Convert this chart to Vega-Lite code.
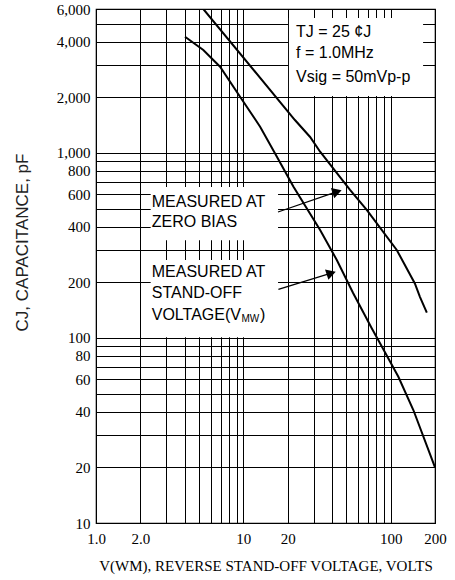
{
  "$schema": "https://vega.github.io/schema/vega-lite/v6.json",
  "width": 339,
  "height": 514,
  "autosize": "none",
  "padding": {"left": 96, "top": 9, "right": 20, "bottom": 57},
  "background": "white",
  "config": {
    "view": {"stroke": "black", "strokeWidth": 1.2},
    "font": "Liberation Sans"
  },
  "datasets": {
    "curves": [
      {"series": "zero bias", "v": 5.35, "c": 6000},
      {"series": "zero bias", "v": 22.4, "c": 1507},
      {"series": "zero bias", "v": 28.4, "c": 1220},
      {"series": "zero bias", "v": 33.2, "c": 1016},
      {"series": "zero bias", "v": 53.0, "c": 631},
      {"series": "zero bias", "v": 68.8, "c": 492},
      {"series": "zero bias", "v": 110, "c": 299},
      {"series": "zero bias", "v": 146, "c": 197},
      {"series": "zero bias", "v": 158, "c": 167},
      {"series": "zero bias", "v": 176, "c": 137},
      {"series": "stand-off", "v": 4.02, "c": 4250},
      {"series": "stand-off", "v": 5.35, "c": 3603},
      {"series": "stand-off", "v": 6.95, "c": 2927},
      {"series": "stand-off", "v": 9.5, "c": 2014},
      {"series": "stand-off", "v": 13.0, "c": 1387},
      {"series": "stand-off", "v": 16.9, "c": 955},
      {"series": "stand-off", "v": 21.9, "c": 657},
      {"series": "stand-off", "v": 33.2, "c": 383},
      {"series": "stand-off", "v": 43.1, "c": 264},
      {"series": "stand-off", "v": 55.6, "c": 175},
      {"series": "stand-off", "v": 74.4, "c": 113},
      {"series": "stand-off", "v": 84.7, "c": 93.6},
      {"series": "stand-off", "v": 112.8, "c": 61.7},
      {"series": "stand-off", "v": 142.6, "c": 40.8},
      {"series": "stand-off", "v": 200, "c": 20}
    ],
    "boxes": [
      {"v": 20.4, "v2": 166, "c": 2030, "c2": 5360},
      {"v": 2.35, "v2": 17.2, "c": 338, "c2": 654},
      {"v": 2.35, "v2": 17.2, "c": 101, "c2": 264}
    ],
    "arrows": [
      {"arrow": "a", "end": "tail", "v": 17.2, "c": 480},
      {"arrow": "a", "end": "head", "v": 43.3, "c": 618},
      {"arrow": "b", "end": "tail", "v": 17.3, "c": 183},
      {"arrow": "b", "end": "head", "v": 39.5, "c": 224}
    ],
    "notes": [
      {"kind": "main", "v": 22.8, "c": 4508, "label": "TJ = 25  ¢J"},
      {"kind": "main", "v": 22.8, "c": 3470, "label": "f = 1.0MHz"},
      {"kind": "main", "v": 22.8, "c": 2574, "label": "Vsig = 50mVp-p"},
      {"kind": "main", "v": 2.39, "c": 545, "label": "MEASURED AT"},
      {"kind": "main", "v": 2.39, "c": 425, "label": "ZERO BIAS"},
      {"kind": "main", "v": 2.39, "c": 228, "label": "MEASURED AT"},
      {"kind": "main", "v": 2.39, "c": 174, "label": "STAND-OFF"},
      {"kind": "main", "v": 2.39, "c": 133, "label": "VOLTAGE(V"},
      {"kind": "main", "v": 13.0, "c": 133, "label": ")"},
      {"kind": "sub", "v": 9.7, "c": 127, "label": "MW"}
    ]
  },
  "encoding": {
    "x": {
      "field": "v",
      "type": "quantitative",
      "scale": {"type": "log", "domain": [1, 200], "nice": false},
      "axis": {
        "values": [1, 2, 3, 4, 5, 6, 7, 8, 9, 10, 20, 30, 40, 50, 60, 70, 80, 90, 100, 200],
        "labelExpr": "datum.value == 1 ? '1.0' : datum.value == 2 ? '2.0' : (datum.value == 10 || datum.value == 20 || datum.value == 100 || datum.value == 200) ? format(datum.value, 'd') : ''",
        "grid": true,
        "gridColor": "black",
        "gridOpacity": 1,
        "gridWidth": 1,
        "ticks": false,
        "domain": false,
        "labelFont": "Liberation Serif",
        "labelFontSize": 15,
        "labelColor": "black",
        "labelPadding": 8,
        "labelFlush": false,
        "labelOverlap": false,
        "title": "V(WM), REVERSE STAND-OFF VOLTAGE, VOLTS",
        "titleFont": "Liberation Serif",
        "titleFontSize": 15,
        "titleFontWeight": "normal",
        "titleColor": "black",
        "titleX": 169.5,
        "titleY": 42,
        "titleBaseline": "middle",
        "titleAlign": "center"
      }
    },
    "y": {
      "field": "c",
      "type": "quantitative",
      "scale": {"type": "log", "domain": [10, 6000], "nice": false},
      "axis": {
        "values": [10, 20, 30, 40, 50, 60, 70, 80, 90, 100, 200, 300, 400, 500, 600, 700, 800, 900, 1000, 2000, 3000, 4000, 5000, 6000],
        "labelExpr": "indexof([10, 20, 40, 60, 80, 100, 200, 400, 600, 800, 1000, 2000, 4000, 6000], datum.value) >= 0 ? format(datum.value, ',') : ''",
        "grid": true,
        "gridColor": "black",
        "gridOpacity": 1,
        "gridWidth": 1,
        "ticks": false,
        "domain": false,
        "labelFont": "Liberation Serif",
        "labelFontSize": 15,
        "labelColor": "black",
        "labelPadding": 6,
        "labelOverlap": false,
        "labelFlush": false,
        "title": "CJ, CAPACITANCE, pF",
        "titleFont": "Liberation Sans",
        "titleFontSize": 17,
        "titleFontWeight": "normal",
        "titleColor": "#222222",
        "titleX": -74,
        "titleY": 233,
        "titleAngle": -90,
        "titleAlign": "center",
        "titleBaseline": "middle"
      }
    }
  },
  "layer": [
    {
      "data": {"name": "boxes"},
      "mark": {"type": "rect", "fill": "white", "stroke": null},
      "encoding": {
        "x2": {"field": "v2"},
        "y2": {"field": "c2"}
      }
    },
    {
      "data": {"name": "curves"},
      "mark": {"type": "line", "color": "black", "strokeWidth": 2, "clip": true},
      "encoding": {"detail": {"field": "series"}}
    },
    {
      "data": {"name": "arrows"},
      "mark": {"type": "line", "color": "black", "strokeWidth": 1.2},
      "encoding": {"detail": {"field": "arrow"}}
    },
    {
      "data": {"name": "arrows"},
      "transform": [{"filter": "datum.end == 'head'"}],
      "mark": {"type": "point", "shape": "triangle-right", "filled": true, "color": "black", "opacity": 1, "size": 120, "angle": -18},
      "encoding": {}
    },
    {
      "data": {"name": "notes"},
      "transform": [{"filter": "datum.kind == 'main'"}],
      "mark": {"type": "text", "align": "left", "baseline": "middle", "font": "Liberation Sans", "fontSize": 16, "color": "black"},
      "encoding": {"text": {"field": "label"}}
    },
    {
      "data": {"name": "notes"},
      "transform": [{"filter": "datum.kind == 'sub'"}],
      "mark": {"type": "text", "align": "left", "baseline": "middle", "font": "Liberation Sans", "fontSize": 10, "color": "black"},
      "encoding": {"text": {"field": "label"}}
    }
  ]
}
